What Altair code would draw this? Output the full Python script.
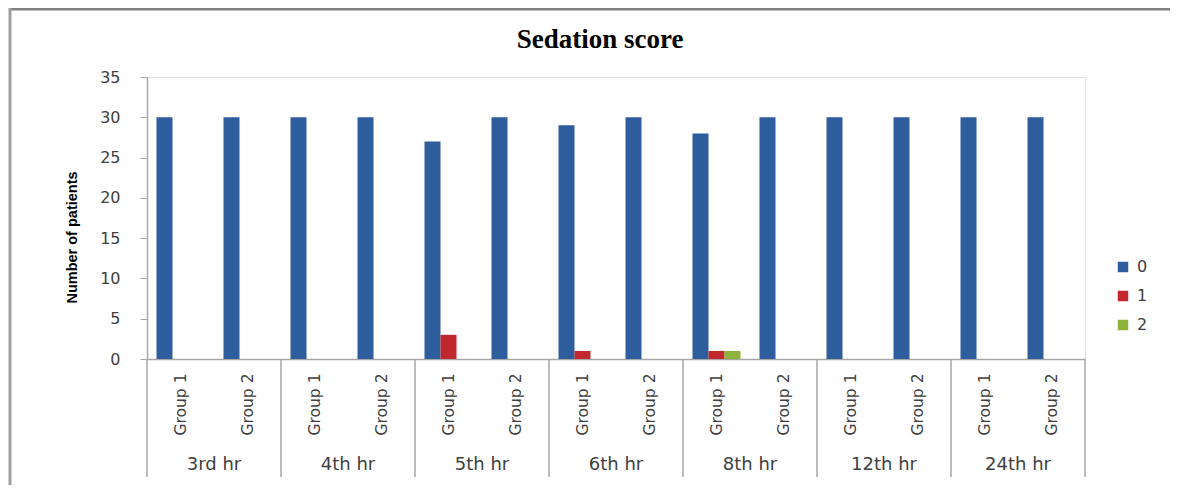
import altair as alt
import pandas as pd

# ---- data ----
times = ["3rd hr", "4th hr", "5th hr", "6th hr", "8th hr", "12th hr", "24th hr"]
groups = ["Group 1", "Group 2"]
scores = ["0", "1", "2"]
# one value per (time, group) slot, in order
score0 = [30, 30, 30, 30, 27, 30, 29, 30, 28, 30, 30, 30, 30, 30]
score1 = [0, 0, 0, 0, 3, 0, 1, 0, 1, 0, 0, 0, 0, 0]
score2 = [0, 0, 0, 0, 0, 0, 0, 0, 1, 0, 0, 0, 0, 0]
y_ticks = [0, 5, 10, 15, 20, 25, 30, 35]
chart_title = "Sedation score"

slots = [f"{t}|{g}" for t in times for g in groups]
series = {"0": score0, "1": score1, "2": score2}
rows = []
for s in scores:
    for slot, v in zip(slots, series[s]):
        rows.append({"slot": slot, "score": s, "value": v})
df = pd.DataFrame(rows)

time_df = pd.DataFrame({"time": times, "slot": [f"{t}|Group 1" for t in times]})
sep_df = pd.DataFrame({"slot": [f"{t}|Group 1" for t in times]})
end_df = pd.DataFrame({"slot": [slots[-1]]})

FONT = "DejaVu Sans, sans-serif"
TXT = "#404040"
LINE = "#a6a6a6"

x_scale = alt.Scale(domain=slots, paddingInner=0, paddingOuter=0)

bars = alt.Chart(df).mark_bar().encode(
    x=alt.X("slot:N", scale=x_scale, sort=slots,
            axis=alt.Axis(title=None, labelAngle=270, labelExpr="split(datum.label, '|')[1]",
                          ticks=False, tickSize=0, labelPadding=14, labelFont=FONT,
                          labelFontSize=15.5, labelColor=TXT, domainColor=LINE,
                          domainWidth=1.5)),
    xOffset=alt.XOffset("score:N", sort=scores,
                        scale=alt.Scale(paddingInner=0, paddingOuter=0.594)),
    y=alt.Y("value:Q", scale=alt.Scale(domain=[0, 35], nice=False),
            axis=alt.Axis(values=y_ticks, grid=False, title="Number of patients",
                          titleFont="Liberation Sans, Arial, sans-serif",
                          titleFontSize=14.5, titleFontWeight="bold", titleColor="#000000",
                          titleAngle=270, titleX=-75, titleY=160, titleAlign="center",
                          titleBaseline="middle",
                          labelFont=FONT, labelFontSize=16, labelColor=TXT, labelPadding=20,
                          tickSize=7, tickColor=LINE, domainColor=LINE, domainWidth=1.5)),
    color=alt.Color("score:N", sort=scores,
                    scale=alt.Scale(domain=scores, range=["#2E5D9E", "#C0282E", "#8DB33A"]),
                    legend=alt.Legend(title=None, orient="none", legendX=968, legendY=182,
                                      symbolType="square", symbolSize=110, labelFont=FONT,
                                      labelFontSize=16, labelColor=TXT, rowPadding=13,
                                      labelOffset=6)),
)

seps = alt.Chart(sep_df).mark_rule(color=LINE, strokeWidth=1.5).encode(
    x=alt.X("slot:N", scale=x_scale, sort=slots, bandPosition=0),
    y=alt.value(282), y2=alt.value(400),
)
end_sep = alt.Chart(end_df).mark_rule(color=LINE, strokeWidth=1.5).encode(
    x=alt.X("slot:N", scale=x_scale, sort=slots, bandPosition=1),
    y=alt.value(282), y2=alt.value(400),
)

time_labels = alt.Chart(time_df).mark_text(font=FONT, fontSize=18, color=TXT,
                                           baseline="middle", align="center").encode(
    x=alt.X("slot:N", scale=x_scale, sort=slots, bandPosition=1),
    y=alt.value(388),
    text="time:N",
)

title_mark = alt.Chart(pd.DataFrame({"t": [chart_title]})).mark_text(
    font="Liberation Serif, Times New Roman, serif", fontSize=27, fontWeight="bold",
    color="#000000", align="center", baseline="middle"
).encode(x=alt.value(453), y=alt.value(-37), text="t:N")

# picture frame (top and left edges)
frame_top = alt.Chart(pd.DataFrame({"a": [0]})).mark_rule(color="#808080", strokeWidth=3).encode(
    x=alt.value(-137), x2=alt.value(1023), y=alt.value(-68)
)
frame_left = alt.Chart(pd.DataFrame({"a": [0]})).mark_rule(color="#a0a0a0", strokeWidth=3).encode(
    x=alt.value(-137), y=alt.value(-69), y2=alt.value(408)
)

chart = alt.layer(frame_top, frame_left, seps, end_sep, bars, time_labels, title_mark).properties(
    width=938, height=282,
    autosize=alt.AutoSizeParams(type="none"),
    padding={"left": 139, "top": 69, "right": 85, "bottom": 126},
).configure_view(stroke=None).configure(background="white")

chart.save("out.html", embed_options={"renderer": "svg", "actions": False})
